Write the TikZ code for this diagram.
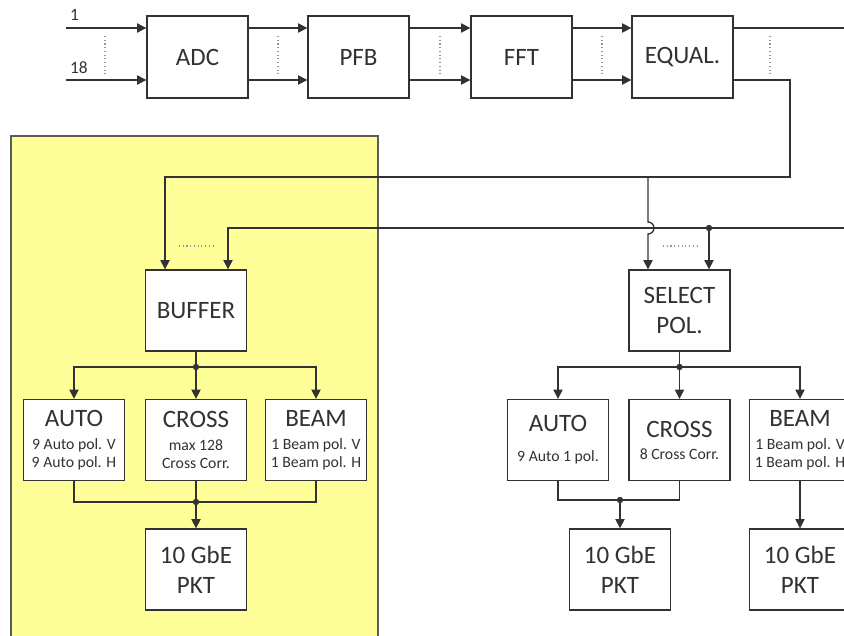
\documentclass[tikz,border=0pt]{standalone}
\usepackage{fontspec}
\setmainfont{Carlito}
\usetikzlibrary{arrows.meta,calc}
\definecolor{linegray}{RGB}{50,50,50}
\definecolor{padyellow}{RGB}{255,255,153}
\definecolor{dotgray}{RGB}{150,150,150}
\newcommand\boxfont{\fontsize{18.75}{22.5}\selectfont}
\newcommand\notefont{\fontsize{11.8}{13.5}\selectfont}

\begin{document}
\begin{tikzpicture}[x=0.75pt,y=-0.75pt,>={Triangle[length=7pt,width=7pt]},
  color=linegray,line width=1pt,
  blk/.style={draw,fill=white,minimum width=75.75pt,minimum height=60.75pt,inner sep=1pt,align=center,font=\boxfont},
  tall/.style={blk,minimum height=61.5pt},
  arr/.style={->},
  dotline/.style={draw=dotgray,line width=0.8pt,dotted}]
\useasboundingbox (0,0) rectangle (844,636);
\clip (0,0) rectangle (844,636);
% beamformer region
\draw[fill=padyellow,draw=linegray!80] (11,136) rectangle (378,660);

% processing chain
\node[tall] (adc) at (197.5,57) {ADC};
\node[tall] (pfb) at (358.5,57) {PFB};
\node[tall] (fft) at (521.5,57) {FFT};
\node[tall] (equal) at (682.5,57) {EQUAL.};

\coordinate (in1) at (66,28);
\coordinate (in18) at (66,80);
\node[anchor=base west,font=\fontsize{13}{15}\selectfont] (lbl1) at (65,20) {1};
\node[anchor=base west,font=\fontsize{13}{15}\selectfont] (lbl18) at (65,73) {18};
\draw[arr] (in1) -- (in1 -| adc.west);
\draw[arr] (in18) -- (in18 -| adc.west);
\draw[dotline] (105,36) -- (105,76);
\foreach \a/\b in {adc/pfb,pfb/fft,fft/equal} {
  \draw[arr] ([yshift=21.75pt]\a.east) -- ([yshift=21.75pt]\b.west);
  \draw[arr] ([yshift=-17.25pt]\a.east) -- ([yshift=-17.25pt]\b.west);
  \draw[dotline] ([yshift=15.75pt]$(\a.east)!0.5!(\b.west)$) -- ([yshift=-14.25pt]$(\a.east)!0.5!(\b.west)$);
}
\draw[dotline] (770,36) -- (770,76);

% left branch
\node[blk] (buf) at (196,310.5) {BUFFER};
\node[blk,font=\notefont] (auto1) at (74,440) {{\boxfont AUTO}\\[3.75pt]9 Auto pol. V\\9 Auto pol. H};
\node[blk,font=\notefont] (cross1) at (196,440) {{\boxfont CROSS}\\[3.75pt]max 128\\Cross Corr.};
\node[blk,font=\notefont] (beam1) at (316,440) {{\boxfont BEAM}\\[3.75pt]1 Beam pol. V\\1 Beam pol. H};
\node[blk] (pkt1) at (196,569.5) {10 GbE\\PKT};

% right branch
\node[blk] (sel) at (679.5,310.5) {SELECT\\POL.};
\node[blk,font=\notefont] (auto2) at (558,440) {{\boxfont AUTO}\\[9pt]9 Auto 1 pol.};
\node[blk,font=\notefont] (cross2) at (679.5,440) {{\boxfont CROSS}\\[3pt]8 Cross Corr.};
\node[blk,font=\notefont] (beam2) at (800,440) {{\boxfont BEAM}\\[3.75pt]1 Beam pol. V\\1 Beam pol. H};
\node[blk] (pkt2) at (620,569.5) {10 GbE\\PKT};
\node[blk] (pkt3) at (800,569.5) {10 GbE\\PKT};

% distribution
\coordinate (outtop) at (850,28);
\coordinate (bend) at (790,177);
\coordinate (split) at (648,177);
\coordinate (bus) at (850,228);
\coordinate (tap) at (709,228);
\draw (equal.east |- outtop) -- (outtop);
\draw[arr] (equal.east |- in18) -| (bend) -| ([xshift=-23.25pt]buf.north);
\draw[arr] (bus) -| ([xshift=24pt]buf.north);
\draw[arr] (split) -- ([yshift=4.5pt]split |- bus) arc[start angle=-90,end angle=90,radius=6] -- (split |- sel.north);
\draw[arr] (tap) -- (tap |- sel.north);
\fill (tap) circle[radius=3.2];
\draw[dotline] (179,246) -- (214,246);
\draw[dotline] (663,246) -- (697,246);

% left tree
\coordinate (bj1) at (196,367);
\coordinate (bj2) at (196,502);
\draw (buf.south) -- (bj1);
\draw[arr] (bj1) -| (auto1.north);
\draw[arr] (bj1) -- (cross1.north);
\draw[arr] (bj1) -| (beam1.north);
\fill (bj1) circle[radius=3.2];
\draw (auto1.south) |- (bj2) -| (beam1.south);
\draw[arr] (cross1.south) -- (pkt1.north);
\fill (bj2) circle[radius=3.2];

% right tree
\coordinate (bj3) at (679.5,367);
\coordinate (bj4) at (620,500);
\draw (sel.south) -- (bj3);
\draw[arr] (bj3) -| (auto2.north);
\draw[arr] (bj3) -- (cross2.north);
\draw[arr] (bj3) -| (beam2.north);
\fill (bj3) circle[radius=3.2];
\draw (auto2.south) |- (bj4) -| (cross2.south);
\draw[arr] (bj4) -- (pkt2.north);
\fill (bj4) circle[radius=3.2];
\draw[arr] (beam2) -- (pkt3);
\end{tikzpicture}
\end{document}
